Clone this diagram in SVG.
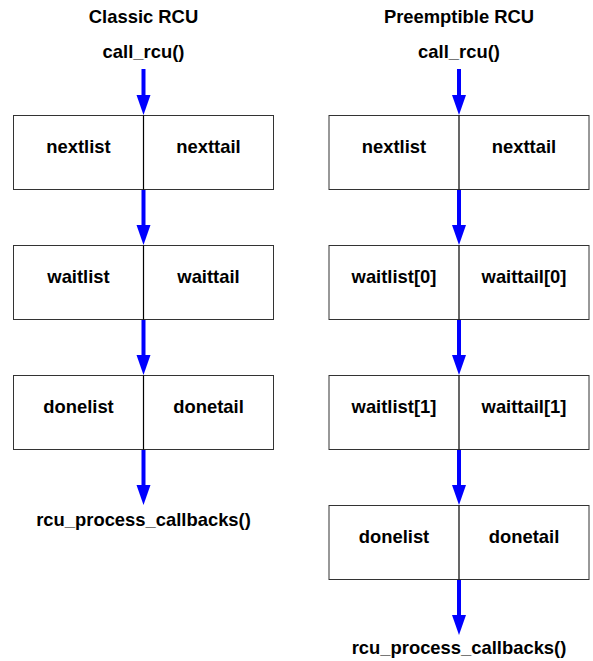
<svg xmlns="http://www.w3.org/2000/svg" width="593" height="661" viewBox="0 0 593 661">
<defs>
<style>
text{font-family:"Liberation Sans",Arial,sans-serif;font-weight:bold;font-size:18.4px;text-anchor:middle;fill:#000}
.box{fill:#fff;stroke:#333;stroke-width:1}
.div{stroke:#000;stroke-width:1.2}
.shaft{stroke:#0000ff;stroke-width:4}
.head{fill:#0000ff}
</style>
</defs>
<rect width="593" height="661" fill="#fff"/>
<g id="titles">
<text x="143.5" y="23">Classic RCU</text>
<text x="459" y="23">Preemptible RCU</text>
<text x="143.5" y="58">call_rcu()</text>
<text x="459" y="58">call_rcu()</text>
<text x="143.5" y="526">rcu_process_callbacks()</text>
<text x="459" y="654">rcu_process_callbacks()</text>
</g>
<g id="connectors">
<path class="shaft" d="M143.5,69 V95"/>
<path class="head" d="M136.5,95 H150.5 L143.5,115 Z"/>
<path class="shaft" d="M143.5,190 V225"/>
<path class="head" d="M136.5,225 H150.5 L143.5,245 Z"/>
<path class="shaft" d="M143.5,320 V355"/>
<path class="head" d="M136.5,355 H150.5 L143.5,375 Z"/>
<path class="shaft" d="M143.5,450 V485"/>
<path class="head" d="M136.5,485 H150.5 L143.5,505 Z"/>
<path class="shaft" d="M459,69 V95"/>
<path class="head" d="M452,95 H466 L459,115 Z"/>
<path class="shaft" d="M459,190 V225"/>
<path class="head" d="M452,225 H466 L459,245 Z"/>
<path class="shaft" d="M459,320 V355"/>
<path class="head" d="M452,355 H466 L459,375 Z"/>
<path class="shaft" d="M459,450 V485"/>
<path class="head" d="M452,485 H466 L459,505 Z"/>
<path class="shaft" d="M459,580 V615"/>
<path class="head" d="M452,615 H466 L459,635 Z"/>
</g>
<g id="classic-next">
<rect class="box" x="13.5" y="115.5" width="260" height="74"/>
<line class="div" x1="143.5" y1="115.5" x2="143.5" y2="189.5"/>
<text x="78.5" y="153">nextlist</text>
<text x="208.5" y="153">nexttail</text>
</g>
<g id="classic-wait">
<rect class="box" x="13.5" y="245.5" width="260" height="74"/>
<line class="div" x1="143.5" y1="245.5" x2="143.5" y2="319.5"/>
<text x="78.5" y="283">waitlist</text>
<text x="208.5" y="283">waittail</text>
</g>
<g id="classic-done">
<rect class="box" x="13.5" y="375.5" width="260" height="74"/>
<line class="div" x1="143.5" y1="375.5" x2="143.5" y2="449.5"/>
<text x="78.5" y="413">donelist</text>
<text x="208.5" y="413">donetail</text>
</g>
<g id="preempt-next">
<rect class="box" x="329" y="115.5" width="260" height="74"/>
<line class="div" x1="459" y1="115.5" x2="459" y2="189.5"/>
<text x="394" y="153">nextlist</text>
<text x="524" y="153">nexttail</text>
</g>
<g id="preempt-wait0">
<rect class="box" x="329" y="245.5" width="260" height="74"/>
<line class="div" x1="459" y1="245.5" x2="459" y2="319.5"/>
<text x="394" y="283">waitlist[0]</text>
<text x="524" y="283">waittail[0]</text>
</g>
<g id="preempt-wait1">
<rect class="box" x="329" y="375.5" width="260" height="74"/>
<line class="div" x1="459" y1="375.5" x2="459" y2="449.5"/>
<text x="394" y="413">waitlist[1]</text>
<text x="524" y="413">waittail[1]</text>
</g>
<g id="preempt-done">
<rect class="box" x="329" y="505.5" width="260" height="74"/>
<line class="div" x1="459" y1="505.5" x2="459" y2="579.5"/>
<text x="394" y="543">donelist</text>
<text x="524" y="543">donetail</text>
</g>
</svg>
